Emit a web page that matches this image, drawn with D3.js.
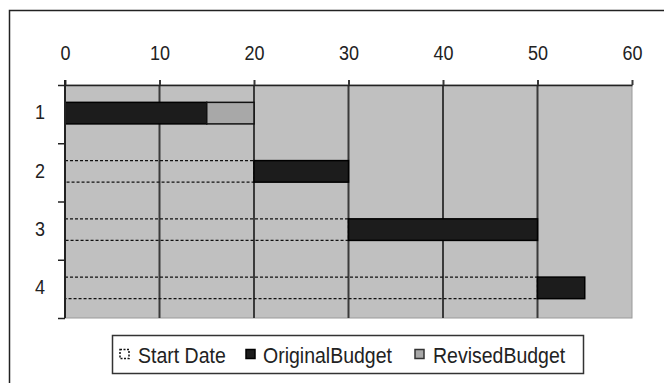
<!DOCTYPE html>
<html lang="en">
<head>
    <meta charset="UTF-8">
    <title>Budget Gantt</title>
    <script src="https://cdnjs.cloudflare.com/ajax/libs/d3/7.8.5/d3.min.js"></script>
    <style>
        body { margin: 0; background: #fff; }
        svg { display: block; font-family: "Liberation Sans", Arial, sans-serif; }
    </style>
</head>
<body>
<svg width="664" height="383"></svg>

<script>
    // data
    const tasks = ["1", "2", "3", "4"];
    const startDate = [0, 20, 30, 50];
    const originalBudget = [15, 10, 20, 5];
    const revisedBudget = [5, 0, 0, 0];
    const xTicks = [0, 10, 20, 30, 40, 50, 60];
    const legendNames = ["Start Date", "OriginalBudget", "RevisedBudget"];

    const svg = d3.select("svg");
    const plotLeft = 65, plotRight = 632, plotTop = 85, plotBottom = 318;
    const stretch = 1.15; // the source text is a bit taller than Arial

    const x = d3.scaleLinear().domain([0, 60]).range([plotLeft, plotRight]);
    const y = d3.scaleBand().domain(tasks).range([plotTop, plotBottom])
        .paddingInner(0.63).paddingOuter(0.315);
    const yEdge = d3.scaleLinear().domain([0, tasks.length]).range([plotTop, plotBottom]);

    // outer chart frame
    svg.append("rect")
        .attr("x", 9.5).attr("y", 10.5)
        .attr("width", 664).attr("height", 390)
        .attr("fill", "#fff").attr("stroke", "#222").attr("stroke-width", 1.5);

    // plot area
    svg.append("rect")
        .attr("x", plotLeft).attr("y", plotTop)
        .attr("width", plotRight - plotLeft).attr("height", plotBottom - plotTop)
        .attr("fill", "#c0c0c0").attr("stroke", "#9a9a9a").attr("stroke-width", 1);

    // vertical gridlines
    svg.append("g")
        .selectAll("line")
        .data(xTicks.filter(d => d > 0 && d < 60))
        .join("line")
        .attr("x1", d => x(d)).attr("x2", d => x(d))
        .attr("y1", plotTop).attr("y2", plotBottom)
        .attr("stroke", "#3a3a3a").attr("stroke-width", 2);

    const rows = tasks.map((t, i) => ({
        task: t, start: startDate[i], orig: originalBudget[i], rev: revisedBudget[i]
    }));

    // start date (invisible, dashed outline)
    svg.append("g")
        .selectAll("rect")
        .data(rows.filter(d => d.start > 0))
        .join("rect")
        .attr("x", d => x(0))
        .attr("y", d => y(d.task) - 1)
        .attr("width", d => x(d.start) - x(0))
        .attr("height", y.bandwidth())
        .attr("fill", "none")
        .attr("stroke", "#111").attr("stroke-width", 1.3)
        .attr("stroke-dasharray", "3,2");

    // original budget
    svg.append("g")
        .selectAll("rect")
        .data(rows)
        .join("rect")
        .attr("x", d => x(d.start))
        .attr("y", d => y(d.task) - 1)
        .attr("width", d => x(d.start + d.orig) - x(d.start))
        .attr("height", y.bandwidth())
        .attr("fill", "#1c1c1c")
        .attr("stroke", "#000").attr("stroke-width", 1.5);

    // revised budget
    svg.append("g")
        .selectAll("rect")
        .data(rows.filter(d => d.rev > 0))
        .join("rect")
        .attr("x", d => x(d.start + d.orig))
        .attr("y", d => y(d.task) - 1)
        .attr("width", d => x(d.start + d.orig + d.rev) - x(d.start + d.orig))
        .attr("height", y.bandwidth())
        .attr("fill", "#a8a8a8")
        .attr("stroke", "#111").attr("stroke-width", 1.5);

    // top value axis
    const xAxis = svg.append("g")
        .attr("transform", `translate(0,${plotTop})`)
        .call(d3.axisTop(x).tickValues(xTicks).tickSize(5).tickSizeOuter(0).tickPadding(17));
    xAxis.select(".domain").attr("stroke", "#222").attr("stroke-width", 1.5);
    xAxis.selectAll(".tick line").attr("stroke", "#3a3a3a").attr("stroke-width", 2);
    xAxis.selectAll(".tick text")
        .attr("font-size", 18).attr("fill", "#222")
        .attr("font-family", "'Liberation Sans', Arial, sans-serif")
        .attr("transform", `scale(1,${stretch})`);

    // category ticks sit between the rows
    const yTicks = svg.append("g")
        .attr("transform", `translate(${plotLeft},0)`)
        .call(d3.axisLeft(yEdge).tickValues(d3.range(0, tasks.length + 1))
            .tickSize(7).tickSizeOuter(0).tickFormat(""));
    yTicks.select(".domain").remove();
    yTicks.selectAll(".tick line").attr("stroke", "#222").attr("stroke-width", 1.5);

    const yAxis = svg.append("g")
        .attr("transform", `translate(${plotLeft},0)`)
        .call(d3.axisLeft(y).tickSize(0).tickPadding(20));
    yAxis.select(".domain").attr("stroke", "#222").attr("stroke-width", 2)
        .attr("d", `M0,${plotTop - 5}V${plotBottom}`);
    yAxis.selectAll(".tick text")
        .attr("font-size", 18).attr("fill", "#222")
        .attr("font-family", "'Liberation Sans', Arial, sans-serif")
        .attr("transform", `scale(1,${stretch})`)
        .attr("dy", "0.25em");

    // legend
    const legend = svg.append("g");
    legend.append("rect")
        .attr("x", 112.5).attr("y", 335.5)
        .attr("width", 471).attr("height", 38)
        .attr("fill", "#fff").attr("stroke", "#333").attr("stroke-width", 1.5);

    const legendX = [120, 246, 415];
    const legendText = [138, 263, 433];
    const swatchStyle = [
        { fill: "#fff", dash: "2,1.5", stroke: "#111" },
        { fill: "#1c1c1c", dash: null, stroke: "#000" },
        { fill: "#a8a8a8", dash: null, stroke: "#333" }
    ];
    legendNames.forEach((name, i) => {
        legend.append("rect")
            .attr("x", legendX[i]).attr("y", 349.5)
            .attr("width", 9).attr("height", 9)
            .attr("fill", swatchStyle[i].fill)
            .attr("stroke", swatchStyle[i].stroke).attr("stroke-width", 1.5)
            .attr("stroke-dasharray", swatchStyle[i].dash);
        legend.append("text")
            .attr("x", legendText[i]).attr("y", 363 / stretch)
            .attr("transform", `scale(1,${stretch})`)
            .attr("font-size", 19.5).attr("fill", "#222")
            .text(name);
    });
</script>
</body>
</html>
